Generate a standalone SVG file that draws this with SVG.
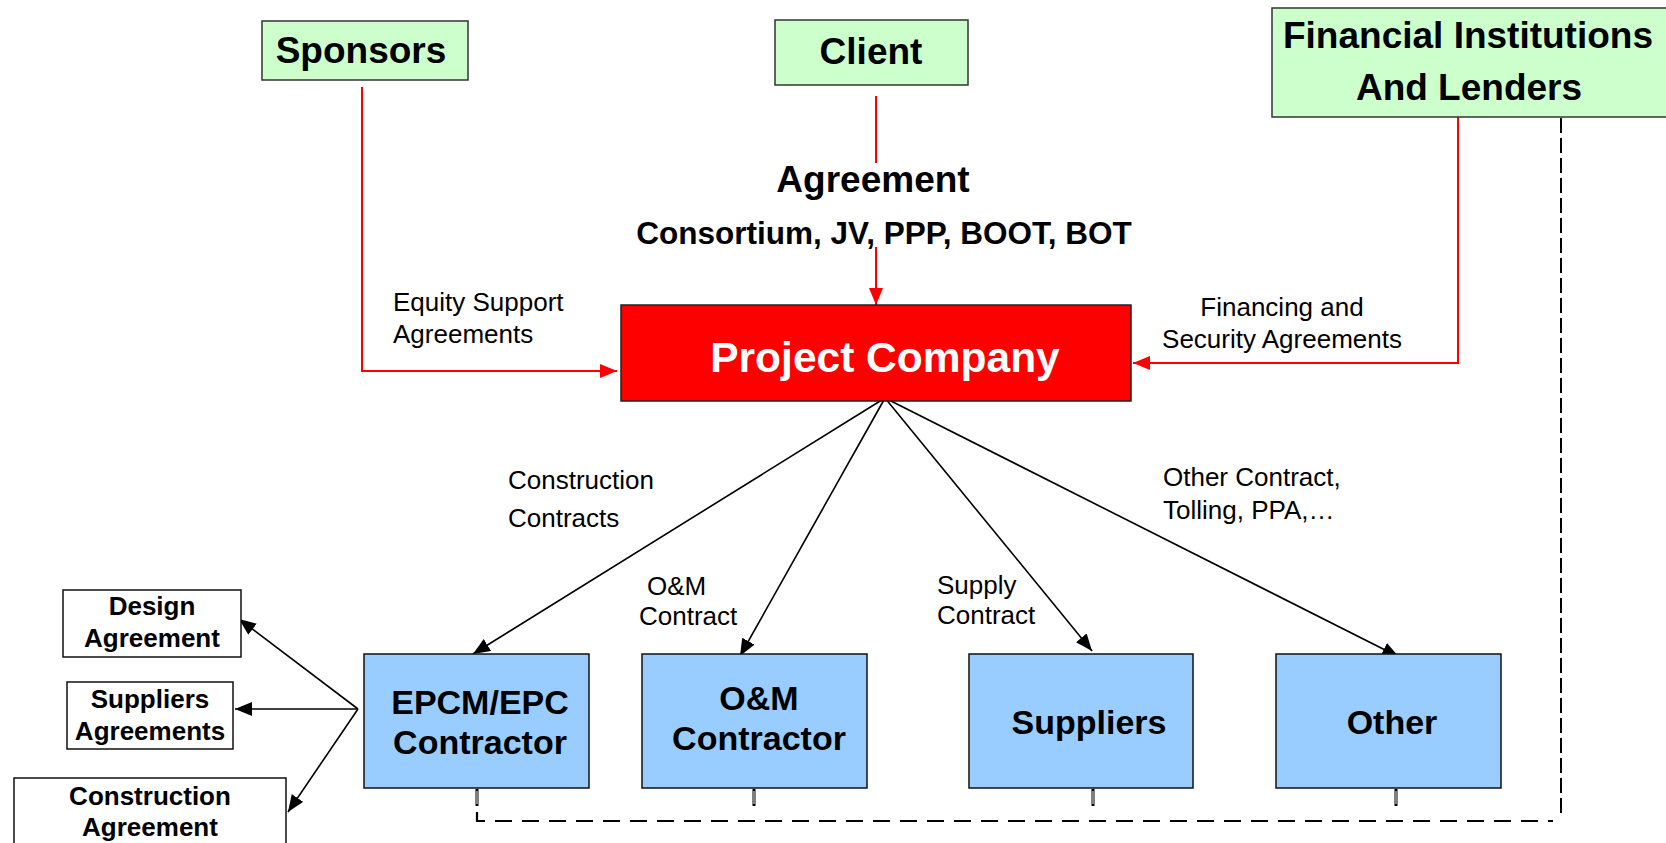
<svg xmlns="http://www.w3.org/2000/svg" width="1666" height="843" viewBox="0 0 1666 843">
<defs>
<style>
text{font-family:"Liberation Sans",Arial,sans-serif;fill:#000}
.b{font-weight:bold}
.green{fill:#CCFFCC;stroke:#333;stroke-width:1.5}
.blue{fill:#99CCFF;stroke:#111;stroke-width:1.5}
.white{fill:#fff;stroke:#111;stroke-width:1.5}
.red{fill:#FF0000;stroke:#222;stroke-width:1.5}
.rl{fill:none;stroke:#FF0000;stroke-width:2}
.bl{fill:none;stroke:#000;stroke-width:1.6}
.lab{font-size:26px}
.dashh{fill:none;stroke:#000;stroke-width:2.2;stroke-dasharray:17 10}
.dashv{fill:none;stroke:#000;stroke-width:2;stroke-dasharray:15 5}
.stub-o{fill:none;stroke:#000;stroke-width:3}
.stub-i{fill:none;stroke:#fff;stroke-width:1}
</style>
<marker id="ab" markerUnits="userSpaceOnUse" markerWidth="18" markerHeight="14" refX="17" refY="7" orient="auto">
<path d="M0,0 L17,7 L0,14 z" fill="#000"/>
</marker>
<marker id="ar" markerUnits="userSpaceOnUse" markerWidth="18" markerHeight="14" refX="17" refY="7" orient="auto">
<path d="M0,0 L17,7 L0,14 z" fill="#FF0000"/>
</marker>
</defs>
<rect width="1666" height="843" fill="#fff"/>

<g id="connectors">
<polyline class="rl" points="362,87 362,371 617,371" marker-end="url(#ar)"/>
<line class="rl" x1="876" y1="96" x2="876" y2="163"/>
<line class="rl" x1="876" y1="247" x2="876" y2="305" marker-end="url(#ar)"/>
<polyline class="rl" points="1458,117 1458,363 1133,363" marker-end="url(#ar)"/>
<line class="bl" x1="885" y1="398" x2="473" y2="654" marker-end="url(#ab)"/>
<line class="bl" x1="885" y1="398" x2="740" y2="656" marker-end="url(#ab)"/>
<line class="bl" x1="885" y1="398" x2="1092" y2="651" marker-end="url(#ab)"/>
<line class="bl" x1="885" y1="398" x2="1399" y2="657" marker-end="url(#ab)"/>
<line class="bl" x1="358" y1="709" x2="239" y2="619" marker-end="url(#ab)"/>
<line class="bl" x1="358" y1="709" x2="235" y2="709" marker-end="url(#ab)"/>
<line class="bl" x1="358" y1="709" x2="288" y2="812" marker-end="url(#ab)"/>
<g id="dashed">
<path class="stub-o" d="M477,789 V806 M754,789 V806 M1093,789 V806 M1396,789 V806"/>
<path class="stub-i" d="M477,791 V804 M754,791 V804 M1093,791 V804 M1396,791 V804"/>
<path class="dashh" d="M477,812 V821 H1553"/>
<path class="dashv" d="M1561,813 V114"/>
</g>
</g>

<g id="sponsors">
<rect class="green" x="262" y="21" width="206" height="59"/>
<text class="b" x="361" y="63" font-size="37" text-anchor="middle">Sponsors</text>
</g>
<g id="client">
<rect class="green" x="775" y="20" width="193" height="65"/>
<text class="b" x="871" y="64" font-size="37" text-anchor="middle">Client</text>
</g>
<g id="financial">
<rect class="green" x="1272" y="8" width="400" height="109"/>
<text class="b" x="1468" y="48" font-size="37" text-anchor="middle">Financial Institutions</text>
<text class="b" x="1469" y="100" font-size="37" text-anchor="middle">And Lenders</text>
</g>
<g id="agreement-label">
<text class="b" x="873" y="192" font-size="37" text-anchor="middle">Agreement</text>
<text class="b" x="884" y="244" font-size="31.5" text-anchor="middle">Consortium, JV, PPP, BOOT, BOT</text>
</g>
<g id="project-company">
<rect class="red" x="621" y="305" width="510" height="96"/>
<text class="b" x="885" y="372" font-size="42.5" text-anchor="middle" style="fill:#fff">Project Company</text>
</g>
<g id="labels">
<text class="lab" x="393" y="311">Equity Support</text>
<text class="lab" x="393" y="343">Agreements</text>
<text class="lab" x="1282" y="316" text-anchor="middle">Financing and</text>
<text class="lab" x="1282" y="348" text-anchor="middle">Security Agreements</text>
<text class="lab" x="508" y="489">Construction</text>
<text class="lab" x="508" y="527">Contracts</text>
<text class="lab" x="647" y="595">O&amp;M</text>
<text class="lab" x="639" y="625">Contract</text>
<text class="lab" x="937" y="594">Supply</text>
<text class="lab" x="937" y="624">Contract</text>
<text class="lab" x="1163" y="486">Other Contract,</text>
<text class="lab" x="1163" y="519">Tolling, PPA,…</text>
</g>
<g id="epcm">
<rect class="blue" x="364" y="654" width="225" height="134"/>
<text class="b" x="480" y="714" font-size="34" text-anchor="middle">EPCM/EPC</text>
<text class="b" x="480" y="754" font-size="34" text-anchor="middle">Contractor</text>
</g>
<g id="om">
<rect class="blue" x="642" y="654" width="225" height="134"/>
<text class="b" x="759" y="710" font-size="34" text-anchor="middle">O&amp;M</text>
<text class="b" x="759" y="750" font-size="34" text-anchor="middle">Contractor</text>
</g>
<g id="suppliers">
<rect class="blue" x="969" y="654" width="224" height="134"/>
<text class="b" x="1089" y="734" font-size="34" text-anchor="middle">Suppliers</text>
</g>
<g id="other">
<rect class="blue" x="1276" y="654" width="225" height="134"/>
<text class="b" x="1392" y="734" font-size="34" text-anchor="middle">Other</text>
</g>
<g id="design">
<rect class="white" x="63" y="590" width="178" height="67"/>
<text class="b" x="152" y="615" font-size="26" text-anchor="middle">Design</text>
<text class="b" x="152" y="647" font-size="26" text-anchor="middle">Agreement</text>
</g>
<g id="suppliers-agreements">
<rect class="white" x="67" y="682" width="166" height="67"/>
<text class="b" x="150" y="708" font-size="26" text-anchor="middle">Suppliers</text>
<text class="b" x="150" y="740" font-size="26" text-anchor="middle">Agreements</text>
</g>
<g id="construction">
<rect class="white" x="14" y="778" width="272" height="80"/>
<text class="b" x="150" y="805" font-size="26" text-anchor="middle">Construction</text>
<text class="b" x="150" y="836" font-size="26" text-anchor="middle">Agreement</text>
</g>
</svg>
